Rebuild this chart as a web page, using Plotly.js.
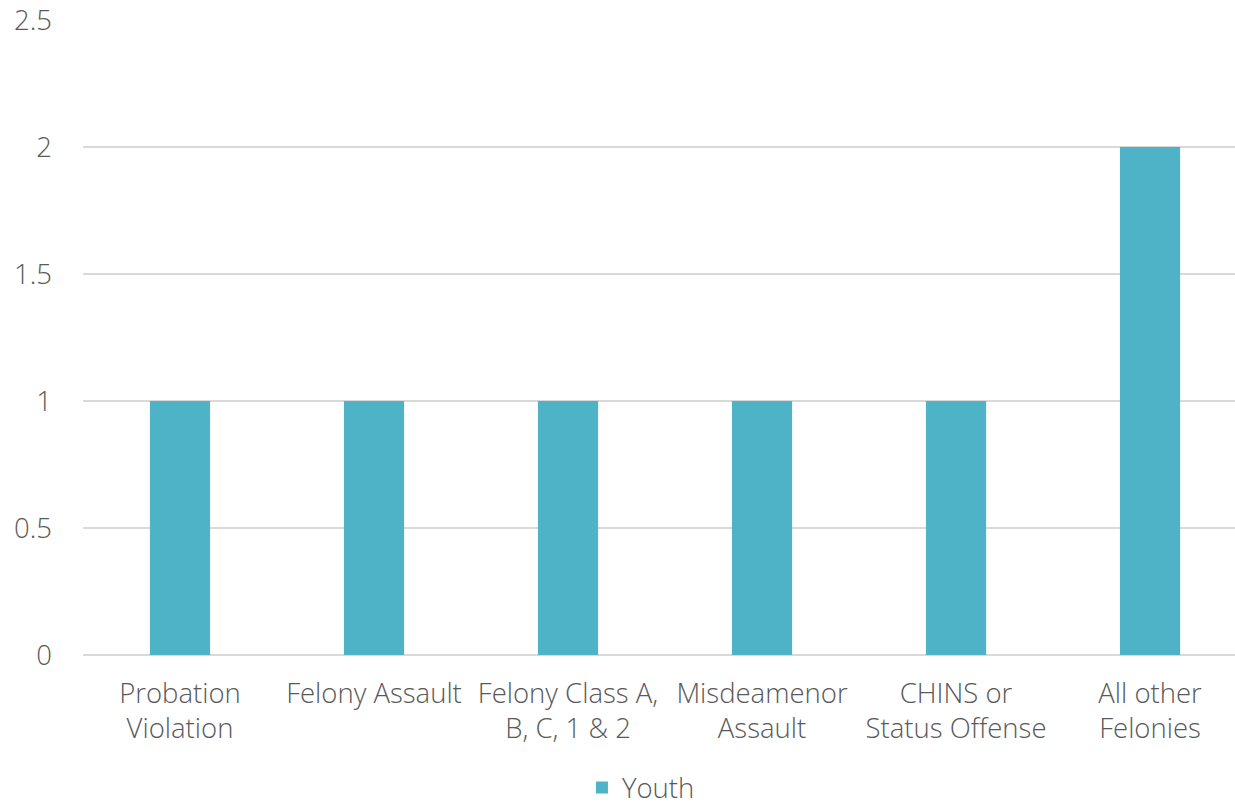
<!DOCTYPE html>
<html>
<head>
<meta charset="utf-8">
<script src="https://cdn.plot.ly/plotly-3.0.1.min.js"></script>
<style>html,body{margin:0;padding:0;background:#fff;}#chart{width:1235px;height:812px;}</style>
</head>
<body>
<div id="chart"></div>
<script>
const categories = ["Probation<br>Violation", "Felony Assault", "Felony Class A,<br>B, C, 1 & 2", "Misdeamenor<br>Assault", "CHINS or<br>Status Offense", "All other<br>Felonies"];
const youthValues = [1, 1, 1, 1, 1, 2];
const yTicks = [0, 0.5, 1, 1.5, 2, 2.5];
const yTickLabels = ["0", "0.5", "1", "1.5", "2", "2.5"];

const font = {family: "Open Sans, sans-serif", size: 27.5, color: "#595959", weight: 300};

Plotly.newPlot("chart", [{
  type: "bar",
  x: categories.map((c, i) => i),
  y: youthValues,
  name: "Youth",
  marker: {color: "#4FB3C8"},
  width: 0.31
}], {
  width: 1235, height: 812,
  margin: {l: 83, r: 0, t: 20, b: 157, autoexpand: false},
  paper_bgcolor: "#fff", plot_bgcolor: "#fff",
  font: font,
  showlegend: true,
  legend: {orientation: "h", x: 0.519, xanchor: "center", xref: "container", yref: "container", y: 0.03, yanchor: "middle", font: font},
  xaxis: {
    range: [-0.5, 5.438],
    tickmode: "array",
    tickvals: categories.map((c, i) => i),
    ticktext: categories,
    showgrid: false, zeroline: false, showline: false,
    ticks: "", ticklabelstandoff: 19,
    tickfont: font, fixedrange: true, automargin: false
  },
  yaxis: {
    range: [0, 2.5],
    tickmode: "array", tickvals: yTicks, ticktext: yTickLabels,
    showgrid: true, gridcolor: "#d9d9d9", gridwidth: 1.5,
    zeroline: true, zerolinecolor: "#d9d9d9", zerolinewidth: 1.5,
    showline: false, ticks: "", ticklabelstandoff: 30,
    tickfont: font, fixedrange: true, automargin: false
  }
}, {displayModeBar: false, staticPlot: true});
</script>
</body>
</html>
